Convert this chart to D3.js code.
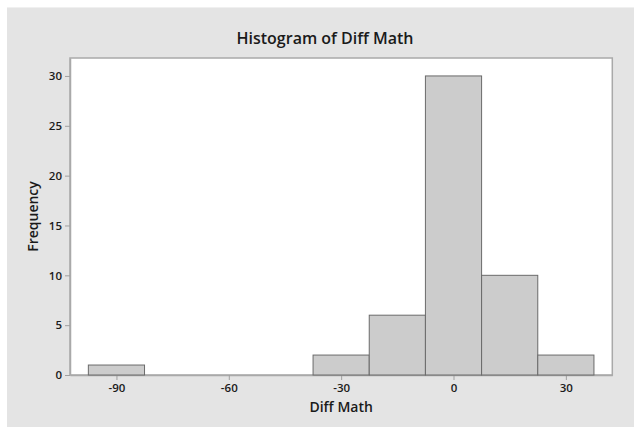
<!DOCTYPE html>
<html><head><meta charset="utf-8">
<script src="https://cdn.jsdelivr.net/npm/d3@7/dist/d3.min.js"></script>
<style>body{margin:0;background:#fff}svg{display:block}</style>
</head><body>
<script>
const binCenters = [-90, -75, -60, -45, -30, -15, 0, 15, 30];
const counts = [1, 0, 0, 0, 2, 6, 30, 10, 2];
const binWidth = 15;
const xTicks = [-90, -60, -30, 0, 30];
const yTicks = [0, 5, 10, 15, 20, 25, 30];
const title = "Histogram of Diff Math";
const xLabel = "Diff Math";
const yLabel = "Frequency";

const W = 634, H = 427;
const L = 70, R = 612.3, T = 58, B = 375;
const svg = d3.select("body").append("svg").attr("width", W).attr("height", H);
svg.append("rect").attr("x", 7).attr("y", 7.5).attr("width", W - 7).attr("height", H - 7.5).attr("fill", "#e4e4e4");
svg.append("line").attr("x1", 7).attr("x2", W).attr("y1", 7.5).attr("y2", 7.5).attr("stroke", "#f0f0f0");

const x = d3.scaleLinear().domain([-102.4, 42.4]).range([L, R]);
const y = d3.scaleLinear().domain([0, 31.8]).range([B, T]);

svg.append("rect").attr("x", L).attr("y", T).attr("width", R - L).attr("height", B - T)
  .attr("fill", "#fff").attr("stroke", "#a9a9a9").attr("stroke-width", 1.5);

const font = "'Open Sans', 'Noto Sans', sans-serif";

const xAxis = svg.append("g").attr("transform", `translate(0,${B})`)
  .call(d3.axisBottom(x).tickValues(xTicks).tickFormat(d => String(d)).tickSize(5).tickPadding(4).tickSizeOuter(0));
const yAxis = svg.append("g").attr("transform", `translate(${L},0)`)
  .call(d3.axisLeft(y).tickValues(yTicks).tickFormat(d => String(d)).tickSize(5).tickPadding(3).tickSizeOuter(0));
[xAxis, yAxis].forEach(a => {
  a.select(".domain").attr("stroke", "#a9a9a9").attr("stroke-width", 1.5);
  a.selectAll(".tick line").attr("stroke", "#a0a0a0");
  a.selectAll(".tick text").attr("fill", "#1a1a1a").style("font-family", font)
    .style("font-size", "11.5px").style("font-weight", "600");
});

svg.append("g").selectAll("rect").data(binCenters).join("rect")
  .attr("x", (d) => x(d - binWidth / 2))
  .attr("width", (d) => x(d + binWidth / 2) - x(d - binWidth / 2))
  .attr("y", (d, i) => y(counts[i]))
  .attr("height", (d, i) => y(0) - y(counts[i]))
  .attr("fill", "#cccccc").attr("stroke", "#6a6a6a").attr("stroke-width", 1);

svg.append("text").attr("x", 325).attr("y", 44).attr("text-anchor", "middle")
  .style("font-family", font).style("font-size", "16px").style("font-weight", "600")
  .attr("fill", "#1a1a1a").text(title);
svg.append("text").attr("x", (L + R) / 2).attr("y", 412).attr("text-anchor", "middle")
  .style("font-family", font).style("font-size", "14px").style("font-weight", "600")
  .attr("fill", "#1a1a1a").text(xLabel);
svg.append("text").attr("transform", `translate(38,${(T + B) / 2}) rotate(-90)`).attr("text-anchor", "middle")
  .style("font-family", font).style("font-size", "14px").style("font-weight", "600")
  .attr("fill", "#1a1a1a").text(yLabel);
</script>
</body></html>
